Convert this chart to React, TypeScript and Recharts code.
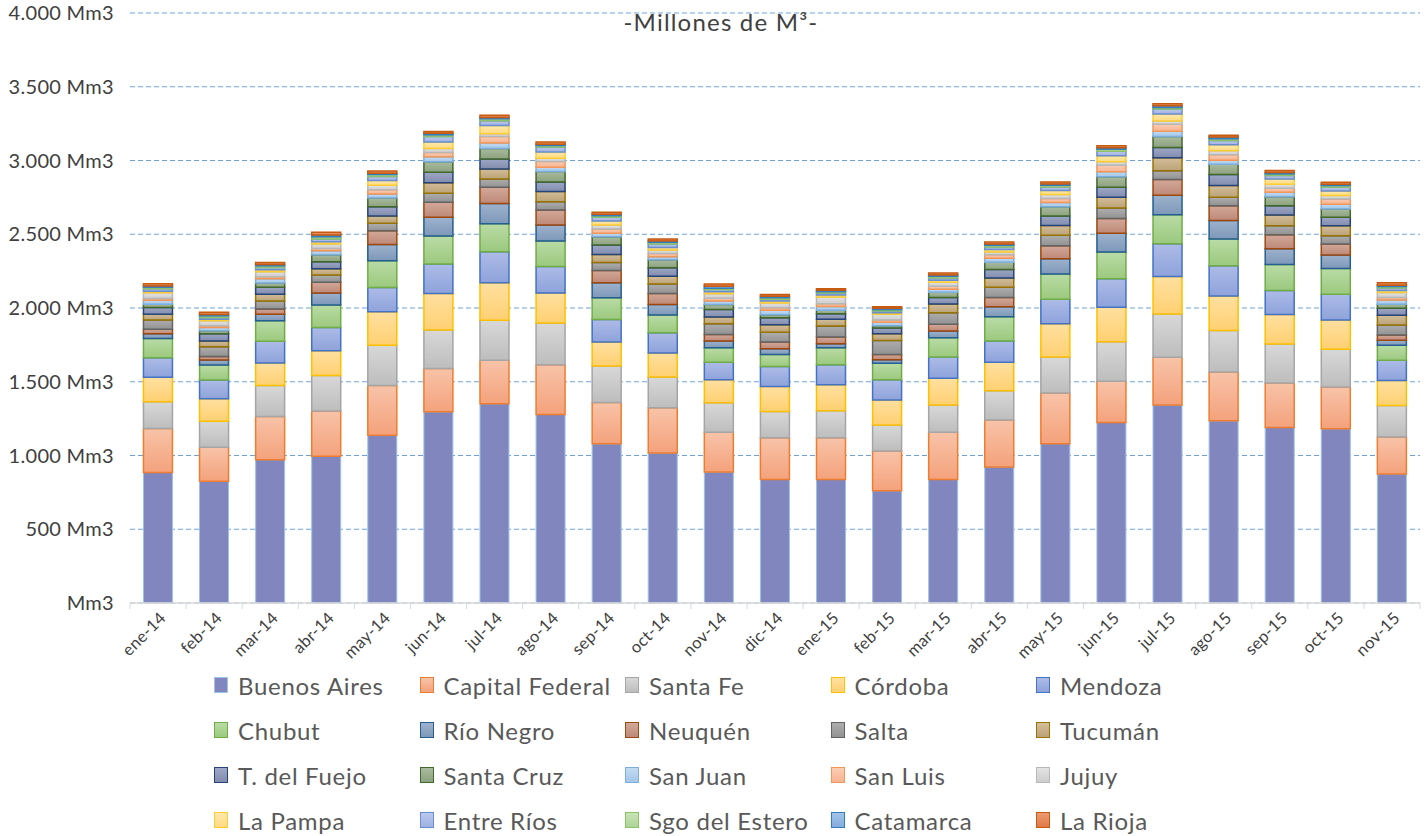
import React from 'react';
import { BarChart, Bar, XAxis, YAxis, CartesianGrid, Legend } from 'recharts';

const months = ['ene-14','feb-14','mar-14','abr-14','may-14','jun-14','jul-14','ago-14','sep-14','oct-14','nov-14','dic-14','ene-15','feb-15','mar-15','abr-15','may-15','jun-15','jul-15','ago-15','sep-15','oct-15','nov-15'];

const buenosAires = [885, 825, 972, 995, 1138, 1296, 1351, 1278, 1079, 1017, 888, 838, 838, 761, 838, 922, 1080, 1224, 1342, 1235, 1190, 1181, 875];
const capitalFederal = [298, 231, 293, 306, 337, 293, 294, 338, 281, 307, 269, 283, 283, 269, 319, 318, 343, 279, 324, 331, 301, 283, 251];
const santaFe = [181, 177, 210, 242, 272, 262, 272, 283, 247, 208, 200, 177, 183, 177, 186, 199, 245, 269, 294, 281, 265, 256, 213];
const cordoba = [166, 152, 152, 168, 227, 247, 254, 202, 163, 163, 156, 170, 175, 170, 181, 193, 226, 233, 254, 235, 200, 199, 170];
const mendoza = [133, 127, 147, 156, 165, 200, 211, 181, 152, 138, 120, 136, 136, 136, 143, 145, 166, 193, 222, 204, 163, 175, 136];
const chubut = [130, 102, 139, 154, 181, 190, 190, 172, 147, 120, 97, 81, 115, 113, 131, 163, 170, 181, 197, 182, 176, 174, 102];
const rioNegro = [33, 34, 45, 80, 111, 127, 136, 109, 102, 71, 46, 39, 28, 23, 46, 68, 104, 127, 131, 126, 107, 91, 34];
const neuquen = [30, 24, 36, 74, 93, 102, 111, 102, 84, 74, 45, 45, 45, 36, 45, 63, 88, 100, 107, 100, 95, 75, 36];
const salta = [63, 66, 54, 48, 50, 61, 56, 56, 54, 64, 73, 66, 75, 95, 79, 70, 71, 72, 59, 57, 61, 56, 68];
const tucuman = [39, 39, 46, 43, 50, 72, 68, 68, 54, 54, 45, 52, 45, 46, 59, 62, 67, 73, 88, 79, 73, 68, 66];
const tDelFuego = [45, 49, 47, 48, 63, 71, 68, 66, 64, 57, 50, 47, 38, 38, 45, 58, 64, 68, 70, 75, 63, 57, 48];
const santaCruz = [23, 19, 28, 47, 59, 70, 71, 70, 56, 54, 34, 21, 23, 16, 34, 50, 63, 70, 75, 70, 61, 57, 27];
const sanJuan = [27, 22, 29, 27, 27, 34, 36, 30, 23, 21, 25, 29, 27, 23, 21, 27, 28, 34, 36, 27, 30, 31, 29];
const sanLuis = [11, 12, 14, 16, 28, 29, 45, 38, 30, 22, 18, 18, 18, 15, 20, 23, 27, 45, 46, 37, 27, 36, 16];
const jujuy = [39, 34, 34, 30, 31, 28, 18, 23, 27, 23, 31, 32, 46, 39, 27, 18, 27, 23, 22, 27, 27, 23, 34];
const laPampa = [11, 11, 13, 15, 32, 43, 57, 41, 27, 18, 14, 14, 13, 11, 14, 18, 27, 41, 48, 40, 36, 32, 14];
const entreRios = [16, 11, 16, 19, 27, 38, 32, 34, 25, 23, 14, 11, 14, 12, 16, 16, 25, 31, 34, 30, 23, 25, 16];
const sgoDelEstero = [11, 12, 11, 15, 14, 11, 13, 11, 11, 11, 9, 11, 9, 9, 11, 12, 11, 14, 11, 11, 11, 11, 11];
const catamarca = [9, 9, 9, 12, 9, 10, 9, 9, 9, 9, 13, 9, 9, 9, 9, 9, 9, 9, 12, 12, 9, 9, 9];
const laRioja = [14, 15, 14, 18, 14, 13, 14, 14, 14, 14, 16, 12, 11, 11, 14, 13, 14, 14, 13, 13, 14, 14, 16];

const yTicks = [0, 500, 1000, 1500, 2000, 2500, 3000, 3500, 4000];

const seriesDefs = [
  { key: 'ba', name: 'Buenos Aires', values: buenosAires, top: '#8186BE', bottom: '#8186BE', stroke: '#9DC3E6', sw: 1 },
  { key: 'cf', name: 'Capital Federal', values: capitalFederal, top: '#F8C3A8', bottom: '#F4A27C', stroke: '#ED7D31', sw: 1.5 },
  { key: 'sf', name: 'Santa Fe', values: santaFe, top: '#D8D8D8', bottom: '#BDBDBD', stroke: '#A5A5A5', sw: 1.5 },
  { key: 'co', name: 'Córdoba', values: cordoba, top: '#FFE0A0', bottom: '#FFD072', stroke: '#FFC000', sw: 1.5 },
  { key: 'me', name: 'Mendoza', values: mendoza, top: '#ADBBE7', bottom: '#8EA3DB', stroke: '#4472C4', sw: 1.5 },
  { key: 'ch', name: 'Chubut', values: chubut, top: '#BADBA6', bottom: '#9BC97E', stroke: '#70AD47', sw: 1.5 },
  { key: 'rn', name: 'Río Negro', values: rioNegro, top: '#9DB2CD', bottom: '#7E98B8', stroke: '#255E91', sw: 1.5 },
  { key: 'ne', name: 'Neuquén', values: neuquen, top: '#D3A899', bottom: '#BD8978', stroke: '#9E480E', sw: 1.5 },
  { key: 'sa', name: 'Salta', values: salta, top: '#AEAEAE', bottom: '#929292', stroke: '#636363', sw: 1.5 },
  { key: 'tu', name: 'Tucumán', values: tucuman, top: '#D3BE9A', bottom: '#BBA278', stroke: '#997300', sw: 1.5 },
  { key: 'tf', name: 'T. del Fuejo', values: tDelFuego, top: '#9EA7C5', bottom: '#828CAE', stroke: '#264478', sw: 1.5 },
  { key: 'sc', name: 'Santa Cruz', values: santaCruz, top: '#A9BB9E', bottom: '#8CA27F', stroke: '#43682B', sw: 1.5 },
  { key: 'sj', name: 'San Juan', values: sanJuan, top: '#C3DBF1', bottom: '#A4C6E9', stroke: '#7CAFDD', sw: 1.5 },
  { key: 'sl', name: 'San Luis', values: sanLuis, top: '#FACDB4', bottom: '#F6B491', stroke: '#F1975A', sw: 1.5 },
  { key: 'ju', name: 'Jujuy', values: jujuy, top: '#E3E3E3', bottom: '#CDCDCD', stroke: '#B7B7B7', sw: 1.5 },
  { key: 'lp', name: 'La Pampa', values: laPampa, top: '#FFE9AE', bottom: '#FFDA82', stroke: '#FFCD33', sw: 1.5 },
  { key: 'er', name: 'Entre Ríos', values: entreRios, top: '#BCC8ED', bottom: '#A0B1E2', stroke: '#698ED0', sw: 1.5 },
  { key: 'sg', name: 'Sgo del Estero', values: sgoDelEstero, top: '#C8E4B6', bottom: '#ACD496', stroke: '#8CC168', sw: 1.5 },
  { key: 'ca', name: 'Catamarca', values: catamarca, top: '#A4C4E9', bottom: '#84ACDF', stroke: '#327DC2', sw: 1.5 },
  { key: 'lr', name: 'La Rioja', values: laRioja, top: '#EC9A70', bottom: '#E07A48', stroke: '#C55A11', sw: 1.5 },
];

const data = months.map((m, i) => {
  const row: Record<string, any> = { month: m };
  seriesDefs.forEach((s) => { row[s.key] = s.values[i]; });
  return row;
});

const W = 1427;
const H = 836;
const PLOT_LEFT = 130;
const PLOT_RIGHT = 7;
const BAND = (W - PLOT_LEFT - PLOT_RIGHT) / months.length;
const FONT = 'Lato, "Open Sans", sans-serif';

const formatY = (v: number) => {
  if (v === 0) return 'Mm3';
  const s = String(v);
  const withDots = s.length > 3 ? s.slice(0, s.length - 3) + '.' + s.slice(s.length - 3) : s;
  return withDots + ' Mm3';
};

function XTick(props: any) {
  const { x, y, payload, index } = props;
  return (
    <g transform={`translate(${x},${y})`}>
      <line x1={-BAND / 2} y1={0} x2={-BAND / 2} y2={6} stroke="#D9D9D9" strokeWidth={1} />
      {index === months.length - 1 && (
        <line x1={BAND / 2} y1={0} x2={BAND / 2} y2={6} stroke="#D9D9D9" strokeWidth={1} />
      )}
      <text
        x={9}
        y={16}
        textAnchor="end"
        transform="rotate(-45 9 16)"
        fontSize={16.5}
        letterSpacing={0.3}
        fontFamily={FONT}
        fill="#404040"
      >
        {payload.value}
      </text>
    </g>
  );
}

function LegendContent() {
  return (
    <div style={{ position: 'relative', width: W, height: 170 }}>
      {seriesDefs.map((def, i) => {
        const col = i % 5;
        const row = Math.floor(i / 5);
        const left = 214 + col * 205.5;
        const top = row * 45;
        return (
          <div key={def.key} style={{ position: 'absolute', left, top, height: 30, display: 'flex', alignItems: 'center', whiteSpace: 'nowrap' }}>
            <div style={{ width: 14, height: 16, boxSizing: 'border-box', border: `1.5px solid ${def.stroke}`, background: `linear-gradient(${def.top}, ${def.bottom})` }} />
            <span style={{ marginLeft: 10, fontSize: 24, letterSpacing: 0.7, fontFamily: FONT, color: '#595959' }}>{def.name}</span>
          </div>
        );
      })}
    </div>
  );
}

export default function App() {
  return (
    <div style={{ position: 'absolute', left: 0, top: 0, width: W, height: H, background: '#fff' }}>
      <div style={{ position: 'absolute', left: 0, top: 7, width: 1442, textAlign: 'center', fontSize: 24, letterSpacing: 1.2, fontFamily: FONT, color: '#404040', zIndex: 2 }}>
        -Millones de M³-
      </div>
      <BarChart
        width={W}
        height={H}
        data={data}
        margin={{ top: 13, right: PLOT_RIGHT, left: 0, bottom: 173 }}
        barCategoryGap="24%"
      >
        <defs>
          {seriesDefs.map((s) => (
            <linearGradient key={s.key} id={`g-${s.key}`} x1="0" y1="0" x2="0" y2="1">
              <stop offset="0%" stopColor={s.top} />
              <stop offset="100%" stopColor={s.bottom} />
            </linearGradient>
          ))}
        </defs>
        <CartesianGrid vertical={false} stroke="#6FA3D8" strokeDasharray="5 3" strokeWidth={1.2} />
        <XAxis
          dataKey="month"
          height={60}
          axisLine={{ stroke: '#D9D9D9', strokeWidth: 1.5 }}
          tickLine={false}
          tickSize={0}
          tickMargin={0}
          interval={0}
          tick={<XTick />}
        />
        <YAxis
          width={PLOT_LEFT}
          domain={[0, 4000]}
          ticks={yTicks}
          tickFormatter={formatY}
          axisLine={false}
          tickLine={false}
          tickSize={0}
          tickMargin={16}
          tick={{ fontSize: 20, letterSpacing: 0.3, fontFamily: FONT, fill: '#404040' }}
        />
        <Legend
          layout="horizontal"
          verticalAlign="middle"
          align="center"
          wrapperStyle={{ top: 670, left: 0, width: W, height: 170 }}
          content={<LegendContent />}
        />
        {seriesDefs.map((s) => (
          <Bar
            key={s.key}
            dataKey={s.key}
            name={s.name}
            stackId="a"
            fill={`url(#g-${s.key})`}
            stroke={s.stroke}
            strokeWidth={s.sw}
            isAnimationActive={false}
          />
        ))}
      </BarChart>
    </div>
  );
}
